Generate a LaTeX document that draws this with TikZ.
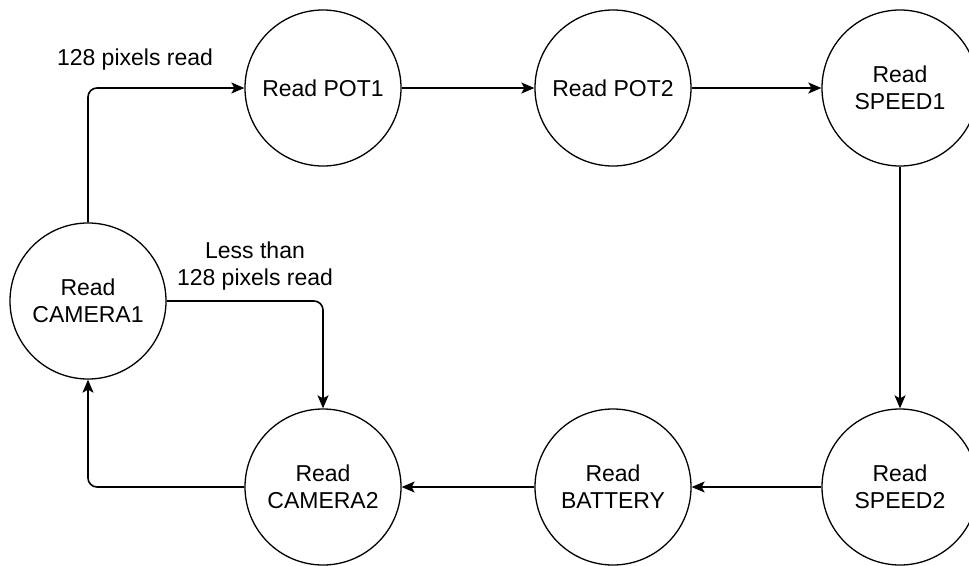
\documentclass[tikz,border=0pt]{standalone}
\usepackage{fontspec}
\setmainfont{Liberation Sans}
\usetikzlibrary{arrows.meta}
\begin{document}
\begin{tikzpicture}[x=1pt,y=-1pt,
  state/.style={circle,draw,line width=1.3pt,minimum size=156pt,inner sep=0pt,align=center,
    font=\fontsize{23}{27}\selectfont},
  conn/.style={line width=1.6pt,rounded corners=9pt,-{Stealth[length=13pt,width=11pt,inset=3pt]}},
  lbl/.style={align=center,font=\fontsize{23}{27}\selectfont}]
\useasboundingbox (0,0) rectangle (969,565);
\node[state] (pot1) at (323,88) {Read POT1};
\node[state] (pot2) at (613,88) {Read POT2};
\node[state] (sp1) at (900,88) {Read\\SPEED1};
\node[state] (cam1) at (88,301) {Read\\CAMERA1};
\node[state] (cam2) at (323,487) {Read\\CAMERA2};
\node[state] (bat) at (613,487) {Read\\BATTERY};
\node[state] (sp2) at (900,487) {Read\\SPEED2};
\draw[conn] (cam1.north) |- (pot1.west);
\draw[conn] (pot1.east) -- (pot2.west);
\draw[conn] (pot2.east) -- (sp1.west);
\draw[conn] (sp1.south) -- (sp2.north);
\draw[conn] (sp2.west) -- (bat.east);
\draw[conn] (bat.west) -- (cam2.east);
\draw[conn] (cam2.west) -| (cam1.south);
\draw[conn] (cam1.east) -| (cam2.north);
\node[lbl] (l1) at (135,60) {128 pixels read};
\node[lbl] (l2) at (255,266) {Less than\\128 pixels read};
\end{tikzpicture}
\end{document}
